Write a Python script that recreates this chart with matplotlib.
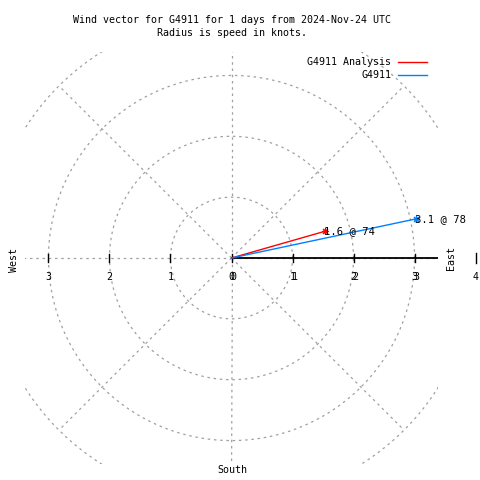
import numpy as np
import matplotlib
matplotlib.use('Agg')
import matplotlib.pyplot as plt

# wind vectors: speed (knots) and direction (degrees, compass)
names = ['G4911 Analysis', 'G4911']
speeds = [1.6, 3.1]
directions = [74, 78]
colors = ['#ff0000', '#0080ff']

rings = [1, 2, 3, 4]
spokes = [0, 45, 90, 135, 180, 225, 270, 315]
xticks = [-3, -2, -1, 0, 1, 2, 3]
lim = 3.385

plt.rcParams['font.family'] = 'DejaVu Sans Mono'
fs = 7.2
grid_col = '#a0a0a0'

fig = plt.figure(figsize=(4.8, 4.8), dpi=100)
ax = fig.add_axes([25 / 480, 16 / 480, 413 / 480, 412 / 480])
ax.set_xlim(-lim, lim)
ax.set_ylim(-lim, lim)
ax.axis('off')

# polar grid
t = np.linspace(0, 2 * np.pi, 400)
for r in rings:
    ax.plot(r * np.cos(t), r * np.sin(t), color=grid_col, lw=0.9, ls=(0, (2, 3)))
for a in spokes:
    rad = np.radians(a)
    ax.plot([0, 4 * np.cos(rad)], [0, 4 * np.sin(rad)], color=grid_col, lw=0.9, ls=(0, (2, 3)))

# x axis (east half solid)
ax.plot([0, lim], [0, 0], color='black', lw=1.3)
for x in xticks:
    ax.plot([x, x], [-0.07, 0.07], color='black', lw=1)
ax.plot([4, 4], [-0.08, 0.08], color='black', lw=1, clip_on=False)

# tick labels (two overlapping sets, as in the original)
for x in xticks:
    ax.text(x, -0.31, str(abs(x)), ha='center', va='center', fontsize=fs)
for x in [0, 1, 2, 3]:
    ax.text(x + 0.03, -0.31, str(x), ha='center', va='center', fontsize=fs)
ax.text(4, -0.31, '4', ha='center', va='center', fontsize=fs, clip_on=False)

# vectors
for name, s, d, c in zip(names, speeds, directions, colors):
    x = s * np.sin(np.radians(d))
    y = s * np.cos(np.radians(d))
    ax.plot([0, x], [0, y], color=c, lw=1)
    ax.plot([x], [y], marker=(8, 2, 0), color=c, ms=5, mew=0.8)
    ax.text(x - 0.02, y, f'{s} @ {d}', ha='left', va='center', fontsize=fs + 0.4)

# labels
fig.text(232 / 480, 1 - 20 / 480, 'Wind vector for G4911 for 1 days from 2024-Nov-24 UTC',
         ha='center', va='center', fontsize=fs)
fig.text(232 / 480, 1 - 33 / 480, 'Radius is speed in knots.', ha='center', va='center', fontsize=fs)
fig.text(14 / 480, 1 - 260 / 480, 'West', rotation=90, ha='center', va='center', fontsize=fs)
fig.text(451 / 480, 1 - 258 / 480, 'East', rotation=90, ha='center', va='center', fontsize=fs)
fig.text(232 / 480, 1 - 470 / 480, 'South', ha='center', va='center', fontsize=fs)

# legend
for i, (name, c) in enumerate(zip(names, colors)):
    y = 1 - (62 + 13 * i) / 480
    fig.text(391 / 480, y, name, ha='right', va='center', fontsize=fs)
    fig.add_artist(plt.Line2D([398 / 480, 427 / 480], [y, y], color=c, lw=1))

fig.savefig('out.png', dpi=100)
